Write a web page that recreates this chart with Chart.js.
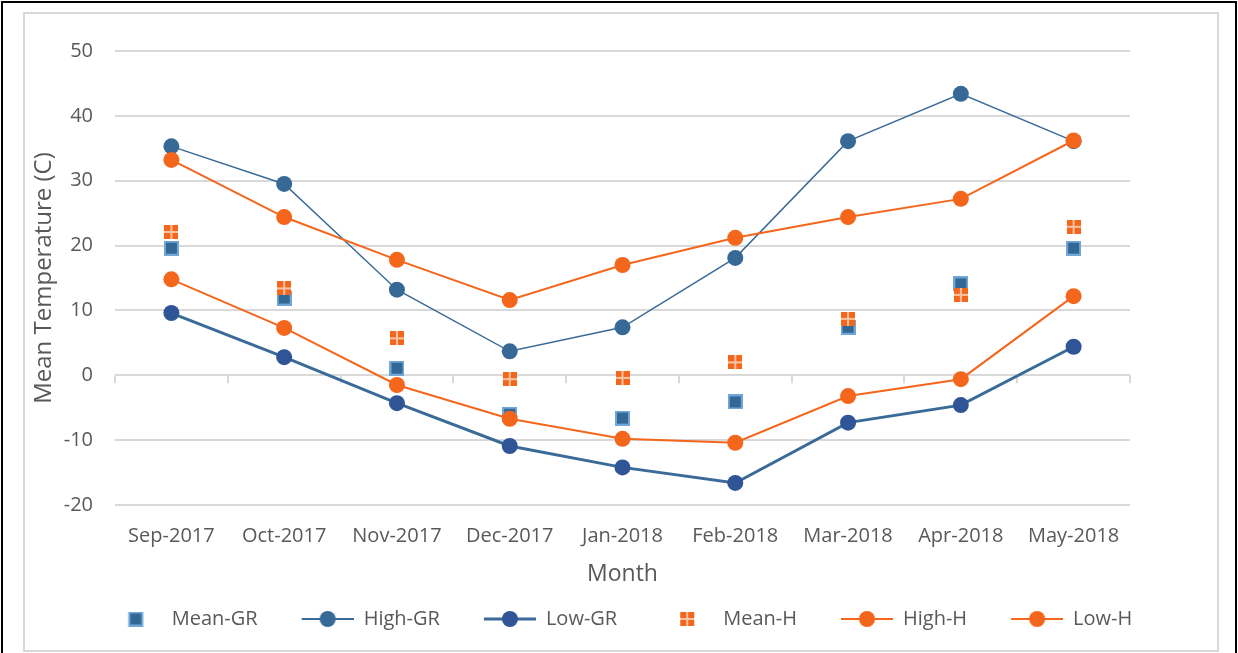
<!DOCTYPE html>
<html>
<head>
<meta charset="utf-8">
<script src="https://cdn.jsdelivr.net/npm/chart.js@4.4.1/dist/chart.umd.min.js"></script>
<style>
    html, body { margin: 0; padding: 0; background: #fff; }
    #frame { position: absolute; left: 1px; top: 1px; width: 1236px; height: 670px; border: 2px solid #000; box-sizing: border-box; }
    #inner { position: absolute; left: 23px; top: 12px; width: 1196px; height: 640px; border: 2px solid #d9d9d9; box-sizing: border-box; }
    #wrap  { position: absolute; left: 25px; top: 14px; width: 1192px; height: 636px; }
</style>
</head>
<body>
<div id="frame"></div>
<div id="inner"></div>
<div id="wrap"><canvas id="tempChart"></canvas></div>
<script>
// ---- Data ----
const months  = ['Sep-2017', 'Oct-2017', 'Nov-2017', 'Dec-2017', 'Jan-2018', 'Feb-2018', 'Mar-2018', 'Apr-2018', 'May-2018'];
const meanGR  = [19.6, 11.9, 1.1, -6.0, -6.6, -4.1, 7.4, 14.1, 19.6];
const highGR  = [35.3, 29.5, 13.2, 3.7, 7.4, 18.1, 36.1, 43.4, 36.1];
const lowGR   = [9.6, 2.8, -4.3, -10.9, -14.2, -16.6, -7.3, -4.6, 4.4];
const meanH   = [22.1, 13.4, 5.7, -0.6, -0.4, 2.0, 8.7, 12.4, 22.9];
const highH   = [33.2, 24.4, 17.8, 11.6, 17.0, 21.2, 24.4, 27.2, 36.2];
const lowH    = [14.8, 7.3, -1.5, -6.7, -9.8, -10.4, -3.2, -0.6, 12.2];

const BLUE      = '#3a6b98';
const BLUE_DARK = '#2f5597';
const ORANGE    = '#f4661b';
const TEXT      = '#595959';
const GRID      = '#d9d9d9';
const FONT      = "'Open Sans', sans-serif";

// legend symbols get some blank room on their left, so items sit further apart
const ICON_LEAD = 20;
const ICON_W    = 52;

// ---- Marker images ----
function squareGR(lead) {
    const w = lead ? lead + ICON_W : 15;
    const c = document.createElement('canvas');
    c.width = w; c.height = 15;
    const g = c.getContext('2d');
    const x0 = (lead || 0) + ((lead ? ICON_W : 15) - 15) / 2;
    g.fillStyle = '#70a7db';
    g.fillRect(x0, 0, 15, 15);
    g.fillStyle = '#346894';
    g.fillRect(x0 + 2, 2, 11, 11);
    return c;
}
function squareH(lead) {
    const w = lead ? lead + ICON_W : 14;
    const c = document.createElement('canvas');
    c.width = w; c.height = 14;
    const g = c.getContext('2d');
    const x0 = (lead || 0) + ((lead ? ICON_W : 14) - 14) / 2;
    g.fillStyle = ORANGE;
    g.fillRect(x0, 0, 14, 14);
    g.fillStyle = '#f9c4a4';
    g.fillRect(x0 + 6, 0, 2, 14);
    g.fillRect(x0, 6, 14, 2);
    return c;
}
function lineIcon(color, width, fill) {
    const c = document.createElement('canvas');
    c.width = ICON_LEAD + ICON_W; c.height = 18;
    const g = c.getContext('2d');
    g.strokeStyle = color;
    g.lineWidth = width;
    g.beginPath(); g.moveTo(ICON_LEAD, 9); g.lineTo(ICON_LEAD + ICON_W, 9); g.stroke();
    g.fillStyle = fill;
    g.beginPath(); g.arc(ICON_LEAD + ICON_W / 2, 9, 8, 0, Math.PI * 2); g.fill();
    return c;
}

const legendIcons = [
    squareGR(ICON_LEAD),
    lineIcon(BLUE, 2, '#376996'),
    lineIcon(BLUE, 3, BLUE_DARK),
    squareH(ICON_LEAD),
    lineIcon(ORANGE, 2, ORANGE),
    lineIcon(ORANGE, 2, ORANGE),
];

// ---- Small tick marks on the zero line at category boundaries ----
const zeroTicks = {
    id: 'zeroTicks',
    beforeDatasetsDraw(chart) {
        const x = chart.scales.x, y = chart.scales.y;
        const y0 = y.getPixelForValue(0);
        const ctx = chart.ctx;
        ctx.save();
        ctx.strokeStyle = GRID;
        ctx.lineWidth = 2;
        ctx.beginPath();
        for (let i = 0; i <= months.length; i++) {
            const px = Math.round(x.getPixelForValue(i - 0.5));
            ctx.moveTo(px, y0);
            ctx.lineTo(px, y0 + 8);
        }
        ctx.stroke();
        ctx.restore();
    }
};

function lineSet(label, data, color, width, pointColor, order) {
    return {
        label, data, order,
        borderColor: color,
        backgroundColor: pointColor,
        borderWidth: width,
        pointStyle: 'circle',
        pointRadius: 8,
        pointBorderWidth: 0,
        pointBackgroundColor: pointColor,
        tension: 0,
    };
}

new Chart(document.getElementById('tempChart'), {
    type: 'line',
    data: {
        labels: months,
        datasets: [
            { label: 'Mean-GR', data: meanGR, showLine: false, pointStyle: squareGR(), pointRadius: 8, order: 5,
              borderColor: BLUE, backgroundColor: BLUE },
            lineSet('High-GR', highGR, BLUE, 1.5, '#376996', 4),
            lineSet('Low-GR', lowGR, BLUE, 3, BLUE_DARK, 3),
            { label: 'Mean-H', data: meanH, showLine: false, pointStyle: squareH(), pointRadius: 8, order: 2,
              borderColor: ORANGE, backgroundColor: ORANGE },
            lineSet('High-H', highH, ORANGE, 2, ORANGE, 1),
            lineSet('Low-H', lowH, ORANGE, 2, ORANGE, 0),
        ],
    },
    options: {
        responsive: true,
        maintainAspectRatio: false,
        animation: false,
        events: [],
        layout: { padding: { top: 37, right: 20, left: 0, bottom: 11 } },
        plugins: {
            tooltip: { enabled: false },
            legend: {
                position: 'bottom',
                labels: {
                    usePointStyle: true,
                    pointStyleWidth: ICON_LEAD + ICON_W,
                    padding: 24,
                    color: TEXT,
                    font: { family: FONT, size: 20 },
                    sort: (a, b) => a.datasetIndex - b.datasetIndex,
                    generateLabels(chart) {
                        const items = Chart.defaults.plugins.legend.labels.generateLabels(chart);
                        items.forEach(it => { it.pointStyle = legendIcons[it.datasetIndex]; });
                        return items;
                    },
                },
            },
        },
        scales: {
            x: {
                offset: true,
                grid: { display: false },
                border: { display: false },
                ticks: { color: TEXT, font: { family: FONT, size: 20 }, padding: 11, maxRotation: 0, autoSkip: false },
                title: { display: true, text: 'Month', color: TEXT, font: { family: FONT, size: 23 }, padding: { top: 0, bottom: -3 } },
                afterFit: (s) => { s.height = 80; },
            },
            y: {
                min: -20,
                max: 50,
                grid: { color: GRID, lineWidth: 2, drawTicks: false },
                border: { display: false },
                ticks: { stepSize: 10, color: TEXT, font: { family: FONT, size: 20 }, padding: 22 },
                title: { display: true, text: 'Mean Temperature (C)', color: TEXT, font: { family: FONT, size: 24 }, padding: { top: 5 } },
                afterFit: (s) => { s.width = 90; },
            },
            // empty right-hand spacer so the legend can center under the plot
            y2: {
                position: 'right',
                min: -20,
                max: 50,
                grid: { display: false },
                border: { display: false },
                ticks: { display: false },
                afterFit: (s) => { s.width = 67; },
            },
        },
    },
    plugins: [zeroTicks],
});
</script>
</body>
</html>
